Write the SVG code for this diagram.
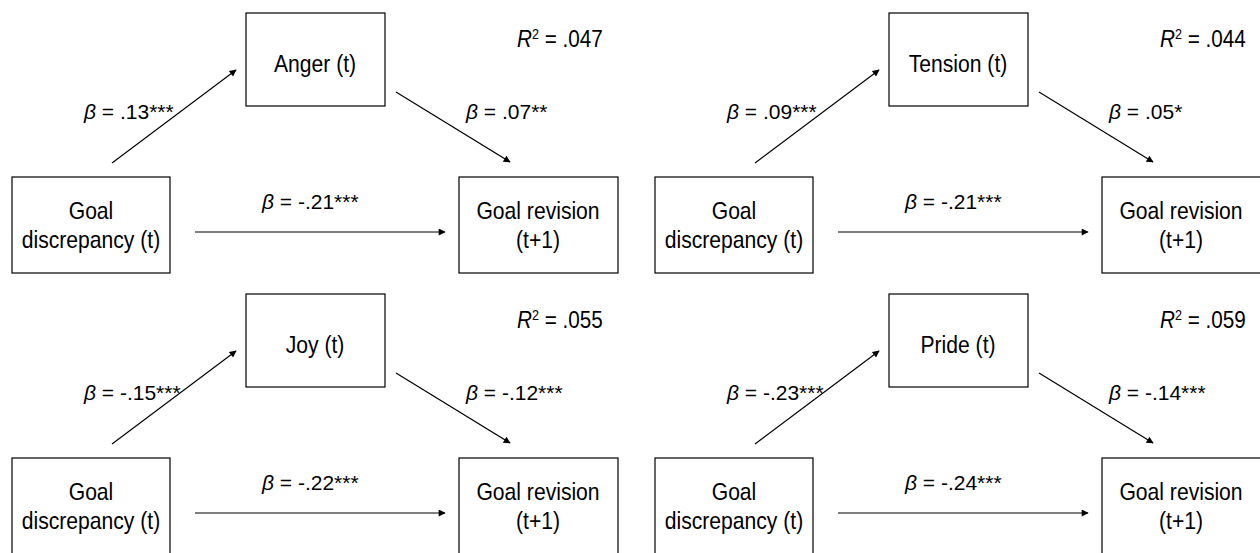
<svg xmlns="http://www.w3.org/2000/svg" width="1260" height="553" viewBox="0 0 1260 553">
<style>
.box{fill:#fff;stroke:#000;stroke-width:1.2}
.nt{font-family:"Liberation Sans",Arial,sans-serif;font-size:24px;fill:#000;text-anchor:middle}
.lb{font-family:"Liberation Sans",Arial,sans-serif;font-size:21px;fill:#000}
.r2{font-family:"Liberation Sans",Arial,sans-serif;font-size:23px;fill:#000}
.it{font-style:italic}
.cn{stroke:#000;stroke-width:1.2;fill:none;marker-end:url(#ah)}
</style>
<defs>
<marker id="ah" viewBox="0 0 10 10" refX="9" refY="5" markerWidth="10" markerHeight="7" markerUnits="userSpaceOnUse" orient="auto">
<path d="M0,0 L10,5 L0,10 z" fill="#000"/>
</marker>
</defs>
<rect width="1260" height="553" fill="#fff"/>

<!-- Panel 1: Anger -->
<g id="p1" transform="translate(0,0)">
<g id="p1-med"><rect class="box" x="246" y="13" width="139" height="93"/><text class="nt" transform="matrix(0.88 0 0 1 315 72)">Anger (t)</text></g>
<g id="p1-gd"><rect class="box" x="12" y="177" width="158" height="96"/><text class="nt" transform="matrix(0.88 0 0 1 91 219)">Goal</text><text class="nt" transform="matrix(0.88 0 0 1 91 248)">discrepancy (t)</text></g>
<g id="p1-gr"><rect class="box" x="459" y="177" width="159" height="96"/><text class="nt" transform="matrix(0.88 0 0 1 538 219)">Goal revision</text><text class="nt" transform="matrix(0.88 0 0 1 538 248)">(t+1)</text></g>
<g id="p1-conn"><line class="cn" x1="112" y1="163" x2="236" y2="70"/><line class="cn" x1="396" y1="92" x2="510" y2="162"/><line class="cn" x1="195" y1="232" x2="445" y2="232"/></g>
<g id="p1-labels">
<text class="lb" x="84" y="119"><tspan class="it">β</tspan> = .13***</text>
<text class="lb" x="466" y="119"><tspan class="it">β</tspan> = .07**</text>
<text class="lb" x="262" y="209"><tspan class="it">β</tspan> = -.21***</text>
<text class="r2" transform="matrix(0.9 0 0 1 517 47)"><tspan class="it">R</tspan><tspan font-size="14" dy="-8">2</tspan><tspan dy="8"> = .047</tspan></text>
</g>
</g>

<!-- Panel 2: Tension -->
<g id="p2" transform="translate(643,0)">
<g id="p2-med"><rect class="box" x="246" y="13" width="139" height="93"/><text class="nt" transform="matrix(0.88 0 0 1 315 72)">Tension (t)</text></g>
<g id="p2-gd"><rect class="box" x="12" y="177" width="158" height="96"/><text class="nt" transform="matrix(0.88 0 0 1 91 219)">Goal</text><text class="nt" transform="matrix(0.88 0 0 1 91 248)">discrepancy (t)</text></g>
<g id="p2-gr"><rect class="box" x="459" y="177" width="159" height="96"/><text class="nt" transform="matrix(0.88 0 0 1 538 219)">Goal revision</text><text class="nt" transform="matrix(0.88 0 0 1 538 248)">(t+1)</text></g>
<g id="p2-conn"><line class="cn" x1="112" y1="163" x2="236" y2="70"/><line class="cn" x1="396" y1="92" x2="510" y2="162"/><line class="cn" x1="195" y1="232" x2="445" y2="232"/></g>
<g id="p2-labels">
<text class="lb" x="84" y="119"><tspan class="it">β</tspan> = .09***</text>
<text class="lb" x="466" y="119"><tspan class="it">β</tspan> = .05*</text>
<text class="lb" x="262" y="209"><tspan class="it">β</tspan> = -.21***</text>
<text class="r2" transform="matrix(0.9 0 0 1 517 47)"><tspan class="it">R</tspan><tspan font-size="14" dy="-8">2</tspan><tspan dy="8"> = .044</tspan></text>
</g>
</g>

<!-- Panel 3: Joy -->
<g id="p3" transform="translate(0,281)">
<g id="p3-med"><rect class="box" x="246" y="13" width="139" height="93"/><text class="nt" transform="matrix(0.88 0 0 1 315 72)">Joy (t)</text></g>
<g id="p3-gd"><rect class="box" x="12" y="177" width="158" height="96"/><text class="nt" transform="matrix(0.88 0 0 1 91 219)">Goal</text><text class="nt" transform="matrix(0.88 0 0 1 91 248)">discrepancy (t)</text></g>
<g id="p3-gr"><rect class="box" x="459" y="177" width="159" height="96"/><text class="nt" transform="matrix(0.88 0 0 1 538 219)">Goal revision</text><text class="nt" transform="matrix(0.88 0 0 1 538 248)">(t+1)</text></g>
<g id="p3-conn"><line class="cn" x1="112" y1="163" x2="236" y2="70"/><line class="cn" x1="396" y1="92" x2="510" y2="162"/><line class="cn" x1="195" y1="232" x2="445" y2="232"/></g>
<g id="p3-labels">
<text class="lb" x="84" y="119"><tspan class="it">β</tspan> = -.15***</text>
<text class="lb" x="466" y="119"><tspan class="it">β</tspan> = -.12***</text>
<text class="lb" x="262" y="209"><tspan class="it">β</tspan> = -.22***</text>
<text class="r2" transform="matrix(0.9 0 0 1 517 47)"><tspan class="it">R</tspan><tspan font-size="14" dy="-8">2</tspan><tspan dy="8"> = .055</tspan></text>
</g>
</g>

<!-- Panel 4: Pride -->
<g id="p4" transform="translate(643,281)">
<g id="p4-med"><rect class="box" x="246" y="13" width="139" height="93"/><text class="nt" transform="matrix(0.88 0 0 1 315 72)">Pride (t)</text></g>
<g id="p4-gd"><rect class="box" x="12" y="177" width="158" height="96"/><text class="nt" transform="matrix(0.88 0 0 1 91 219)">Goal</text><text class="nt" transform="matrix(0.88 0 0 1 91 248)">discrepancy (t)</text></g>
<g id="p4-gr"><rect class="box" x="459" y="177" width="159" height="96"/><text class="nt" transform="matrix(0.88 0 0 1 538 219)">Goal revision</text><text class="nt" transform="matrix(0.88 0 0 1 538 248)">(t+1)</text></g>
<g id="p4-conn"><line class="cn" x1="112" y1="163" x2="236" y2="70"/><line class="cn" x1="396" y1="92" x2="510" y2="162"/><line class="cn" x1="195" y1="232" x2="445" y2="232"/></g>
<g id="p4-labels">
<text class="lb" x="84" y="119"><tspan class="it">β</tspan> = -.23***</text>
<text class="lb" x="466" y="119"><tspan class="it">β</tspan> = -.14***</text>
<text class="lb" x="262" y="209"><tspan class="it">β</tspan> = -.24***</text>
<text class="r2" transform="matrix(0.9 0 0 1 517 47)"><tspan class="it">R</tspan><tspan font-size="14" dy="-8">2</tspan><tspan dy="8"> = .059</tspan></text>
</g>
</g>
</svg>
